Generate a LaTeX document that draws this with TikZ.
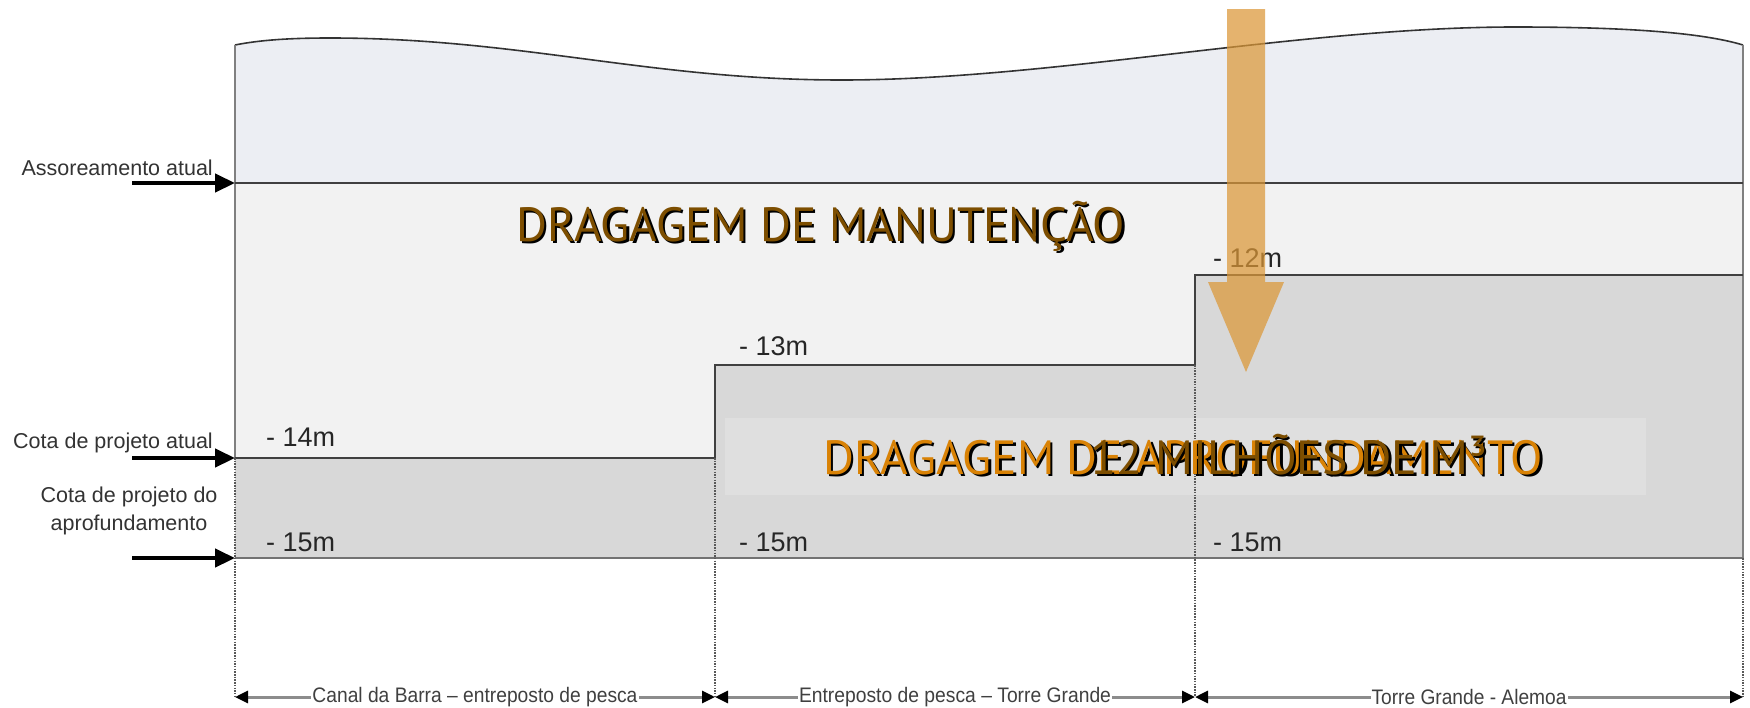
\documentclass[tikz,border=0pt]{standalone}
\usepackage{fontspec}
\usepackage{graphicx}
\setmainfont{Liberation Sans}
\newfontfamily\bigfont{PT Sans}
\usetikzlibrary{arrows.meta}
\definecolor{wavebg}{RGB}{236,238,243}
\definecolor{lightbg}{RGB}{242,242,242}
\definecolor{deepbg}{RGB}{216,216,216}
\definecolor{bandbg}{RGB}{223,223,223}
\definecolor{txtorange}{RGB}{217,130,5}
\definecolor{txtbrown}{RGB}{125,78,0}
\definecolor{arroworange}{RGB}{219,151,55}
\newcommand{\bigtext}[2]{\resizebox{#1}{\height}{\fontsize{48}{50}\bigfont #2}}
\begin{document}
\begin{tikzpicture}[x=1pt,y=-1pt,
  lbl/.style={font=\fontsize{21.5}{28}\selectfont, text=black!80, inner sep=0pt},
  mlbl/.style={font=\fontsize{27}{30}\selectfont, text=black!85, inner sep=0pt, anchor=base west},
  dimlbl/.style={font=\fontsize{21}{24}\selectfont, text=black!75, fill=white, inner xsep=1pt, inner ysep=1pt},
  pointer/.style={line width=4.5pt, -{Triangle[length=20pt,width=18pt]}},
  profile/.style={draw=black!75, line width=1.8pt},
  wallline/.style={draw=black!50, line width=1.4pt},
  dotv/.style={draw=black!65, line width=1.3pt, dash pattern=on 1.5pt off 1.2pt},
  dimline/.style={draw=black!45, line width=3pt, {Triangle[length=13pt,width=12pt,color=black]}-{Triangle[length=13pt,width=12pt,color=black]}},
  bigtxt/.style={anchor=base west, inner sep=0pt}
]
\useasboundingbox (0,0) rectangle (1750,707);
\fill[white] (0,0) rectangle (1750,707);

% coordinates
\coordinate (wL) at (235,45);
\coordinate (wR) at (1743,45);
\coordinate (aL) at (235,183);
\coordinate (aR) at (1743,183);
\coordinate (p14L) at (235,458);
\coordinate (p14R) at (715,458);
\coordinate (p13L) at (715,365);
\coordinate (p13R) at (1195,365);
\coordinate (p12L) at (1195,275);
\coordinate (p12R) at (1743,275);
\coordinate (p15L) at (235,558);
\coordinate (p15R) at (1743,558);
\coordinate (d0) at (235,697);
\coordinate (d1) at (715,697);
\coordinate (d2) at (1195,697);
\coordinate (d3) at (1743,697);

% fills
\fill[wavebg] (wL) .. controls (260,40) and (290,38) .. (330,38)
  .. controls (520,38) and (650,80) .. (842,80)
  .. controls (1050,80) and (1300,27) .. (1515,27)
  .. controls (1620,27) and (1700,32) .. (wR) -- (aR) -- (aL) -- cycle;
\fill[lightbg] (aL) -- (aR) -- (p12R) -- (p12L) -- (p13R) -- (p13L) -- (p14R) -- (p14L) -- cycle;
\fill[deepbg] (p14L) -- (p14R) -- (p13L) -- (p13R) -- (p12L) -- (p12R) -- (p15R) -- (p15L) -- cycle;
\fill[bandbg] (725,418) rectangle (1646,495);

% lines
\draw[draw=black!80, line width=1.6pt] (wL) .. controls (260,40) and (290,38) .. (330,38)
  .. controls (520,38) and (650,80) .. (842,80)
  .. controls (1050,80) and (1300,27) .. (1515,27)
  .. controls (1620,27) and (1700,32) .. (wR);
\draw[wallline] (wL) -- (p14L);
\draw[wallline] (wR) -- (p15R);
\draw[draw=black!75, line width=2.5pt] (aL) -- (aR);
\draw[profile] (p14L) -- (p14R) -- (p13L) -- (p13R) -- (p12L) -- (p12R);
\draw[draw=black!55, line width=1.5pt] (p15L) -- (p15R);
\draw[dotv] (p14L) -- (d0);
\draw[dotv] (p14R) -- (d1);
\draw[dotv] (p13R) -- (d2);
\draw[dotv] (p15R) -- (d3);

% left labels and pointers
\node[lbl, anchor=base east] (tAss) at (213,175) {Assoreamento atual};
\node[lbl, anchor=base east] (tCota) at (213,448) {Cota de projeto atual};
\node[lbl, anchor=base] (tCota2) at (129,502) {Cota de projeto do};
\node[lbl, anchor=base] (tCota3) at (129,530) {aprofundamento};
\coordinate (s1) at (132,183);
\coordinate (s2) at (132,458);
\coordinate (s3) at (132,558);
\draw[pointer] (s1) -- (aL);
\draw[pointer] (s2) -- (p14L);
\draw[pointer] (s3) -- (p15L);

% depth labels
\node[mlbl] (m14) at (266,446) {- 14m};
\node[mlbl] (m15a) at (266,551) {- 15m};
\node[mlbl] (m13) at (739,355) {- 13m};
\node[mlbl] (m15b) at (739,551) {- 15m};
\node[mlbl] (m12) at (1213,267) {- 12m};
\node[mlbl] (m15c) at (1213,551) {- 15m};

% dimension lines
\draw[dimline] (d0) -- (d1) node[midway, dimlbl] (dl1) {\resizebox{325pt}{\height}{Canal da Barra – entreposto de pesca}};
\draw[dimline] (d1) -- (d2) node[midway, dimlbl] (dl2) {\resizebox{312pt}{\height}{Entreposto de pesca – Torre Grande}};
\draw[dimline] (d2) -- (d3) node[midway, dimlbl] (dl3) {\resizebox{195pt}{\height}{Torre Grande - Alemoa}};

% big texts
\node[bigtxt, text=black] (manS) at (518.5,243.5) {\bigtext{609pt}{DRAGAGEM DE MANUTENÇÃO}};
\node[bigtxt, text=txtbrown] (man) at (516,241) {\bigtext{609pt}{DRAGAGEM DE MANUTENÇÃO}};
\node[bigtxt, text=black] (aprS) at (825.5,476.5) {\bigtext{720pt}{DRAGAGEM DE APROFUNDAMENTO}};
\node[bigtxt, text=txtorange] (apr) at (823,474) {\bigtext{720pt}{DRAGAGEM DE APROFUNDAMENTO}};
\node[bigtxt, text=black] (milS) at (1092.5,476.5) {\bigtext{397pt}{12 MILHÕES DE M³}};
\node[bigtxt, text=txtbrown] (mil) at (1090,474) {\bigtext{397pt}{12 MILHÕES DE M³}};

% orange arrow
\fill[arroworange, opacity=0.72] (1227,9) -- (1265,9) -- (1265,282) -- (1284,282) -- (1246,372) -- (1208,282) -- (1227,282) -- cycle;
\end{tikzpicture}
\end{document}
